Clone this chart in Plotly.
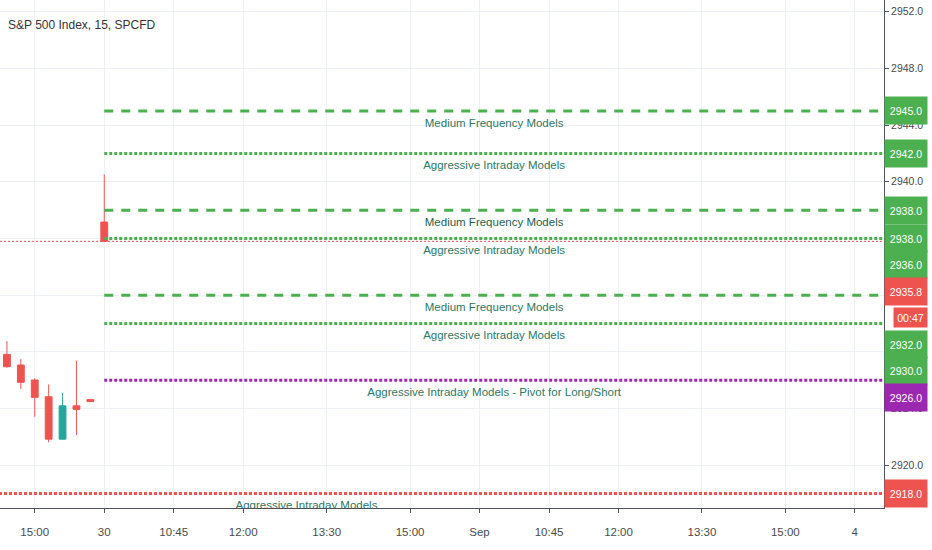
import plotly.graph_objects as go

# 15 minute bars, x = bar number (session gaps removed like the TradingView axis)
candle_bar = [0, 1, 2, 3, 4, 5, 6, 7]
opens = [2927.82, 2927.07, 2926.01, 2924.83, 2921.84, 2924.19, 2924.63, 2937.16]
highs = [2928.76, 2927.49, 2926.13, 2925.70, 2925.11, 2927.37, 2924.63, 2940.52]
lows = [2926.88, 2925.37, 2923.42, 2921.61, 2921.80, 2922.13, 2924.49, 2935.80]
closes = [2926.95, 2925.85, 2924.79, 2921.84, 2924.19, 2923.94, 2924.49, 2935.80]
last_price = 2935.8
countdown = "00:47"

tick_bars = [2, 7, 12, 17, 23, 29, 34, 39, 44, 50, 56, 61]
tick_labels = ["15:00", "30", "10:45", "12:00", "13:30", "15:00",
               "Sep", "10:45", "12:00", "13:30", "15:00", "4"]

level_values = [2945, 2942, 2938, 2936, 2932, 2930, 2926, 2918]
level_kinds = ["medium", "aggressive", "medium", "aggressive",
               "medium", "aggressive", "pivot", "stop"]
level_names = ["Medium Frequency Models", "Aggressive Intraday Models",
               "Medium Frequency Models", "Aggressive Intraday Models",
               "Medium Frequency Models", "Aggressive Intraday Models",
               "Aggressive Intraday Models - Pivot for Long/Short",
               "Aggressive Intraday Models"]
level_start_bar = [7, 7, 7, 7, 7, 7, 7, -20]

# price scale labels (top to bottom) and the price each one belongs to
scale_label_text = ["2945.0", "2942.0", "2938.0", "2938.0", "2936.0", "2935.8",
                    countdown, "2932.0", "2930.0", "2926.0", "2918.0"]
scale_label_price = [2945, 2942, 2938, 2936, 2936, last_price,
                     last_price, 2932, 2930, 2926, 2918]
scale_label_kind = ["green", "green", "green", "green", "green", "red",
                    "timer", "green", "green", "purple", "red"]

GREEN = "#4caf50"
RED = "#ef5350"
PURPLE = "#9c27b0"
TEAL = "#26a69a"
TEXT = "#2b7866"
FONT = "Liberation Sans, Arial, sans-serif"

x_range = [-0.5, 63.1]
y_range = [2916.98, 2952.83]
plot_h = 508
units_per_px = (y_range[1] - y_range[0]) / plot_h

styles = {
    "medium": dict(color=GREEN, width=3, dash="9px,8px"),
    "aggressive": dict(color=GREEN, width=3, dash="3px,2px"),
    "pivot": dict(color=PURPLE, width=3, dash="3px,2px"),
    "stop": dict(color=RED, width=3, dash="3px,2px"),
}
box_colors = {"green": GREEN, "red": RED, "purple": PURPLE, "timer": RED}

fig = go.Figure()

# last price line
fig.add_trace(go.Scatter(x=x_range, y=[last_price, last_price], mode="lines",
                         line=dict(color=RED, width=1, dash="2px,2px"),
                         hoverinfo="skip"))

seen_medium = 0
for val, kind, name, start in zip(level_values, level_kinds, level_names, level_start_bar):
    fig.add_trace(go.Scatter(x=[start, x_range[1]], y=[val, val], mode="lines",
                             line=styles[kind], hoverinfo="skip"))
    col = TEXT
    if kind == "medium":
        seen_medium += 1
        if seen_medium == 2:
            col = "#1d5d4d"
    # caption sits about 13px under its line
    fig.add_trace(go.Scatter(x=[(start + x_range[1]) / 2], y=[val - 13 * units_per_px],
                             mode="text", text=[name], textposition="middle center",
                             textfont=dict(family=FONT, size=11.5, color=col),
                             cliponaxis=True, hoverinfo="skip"))

fig.add_trace(go.Candlestick(
    x=candle_bar, open=opens, high=highs, low=lows, close=closes,
    increasing=dict(line=dict(color=TEAL, width=1), fillcolor=TEAL),
    decreasing=dict(line=dict(color=RED, width=1), fillcolor=RED),
    whiskerwidth=0, hoverinfo="skip"))

# stacked price scale labels, pushed down so they never overlap
slot = 26.5 * units_per_px
prev = None
for txt, price, kind in zip(scale_label_text, scale_label_price, scale_label_kind):
    pos = price if prev is None else min(price, prev - slot)
    prev = pos
    if kind == "timer":
        fig.add_annotation(x=1, xref="paper", y=pos, yref="y", xanchor="left",
                           xshift=9, text=txt, showarrow=False, width=31, height=17,
                           bgcolor=box_colors[kind], borderpad=1,
                           font=dict(family=FONT, size=10.5, color="white"))
    else:
        fig.add_annotation(x=1, xref="paper", y=pos, yref="y", xanchor="left",
                           text=txt, showarrow=False, width=40, height=25,
                           bgcolor=box_colors[kind], borderpad=1,
                           font=dict(family=FONT, size=10.5, color="white"))

fig.add_annotation(x=0, xref="paper", y=1, yref="paper", xanchor="left",
                   yanchor="middle", xshift=6, yshift=-25, showarrow=False,
                   text="S&P 500 Index, 15, SPCFD",
                   font=dict(family=FONT, size=12, color="#333333"))

fig.update_layout(
    width=932, height=550, showlegend=False,
    margin=dict(l=0, r=48, t=0, b=42),
    paper_bgcolor="white", plot_bgcolor="white",
    font=dict(family=FONT, size=10.5, color="#4a4a4a"),
    xaxis=dict(range=x_range, tickvals=tick_bars, ticktext=tick_labels,
               showgrid=True, gridcolor="#edf0f4", zeroline=False,
               showline=True, linecolor="#50535e", linewidth=1,
               ticks="outside", ticklen=4, tickcolor="#50535e",
               tickfont=dict(size=11.5), ticklabelstandoff=9, automargin=False,
               rangeslider=dict(visible=False), fixedrange=True),
    yaxis=dict(range=y_range, side="right", dtick=4, tick0=2920,
               tickformat=".1f", showgrid=True, gridcolor="#edf0f4",
               zeroline=False, showline=True, linecolor="#50535e",
               linewidth=1, ticks="outside", ticklen=4, tickcolor="#50535e",
               automargin=False, fixedrange=True),
)

# the page body has an 8px margin by default; drop it so the chart fills the window
fig.write_html("out.html", config={"displayModeBar": False},
               post_script="document.body.style.margin='0';")
